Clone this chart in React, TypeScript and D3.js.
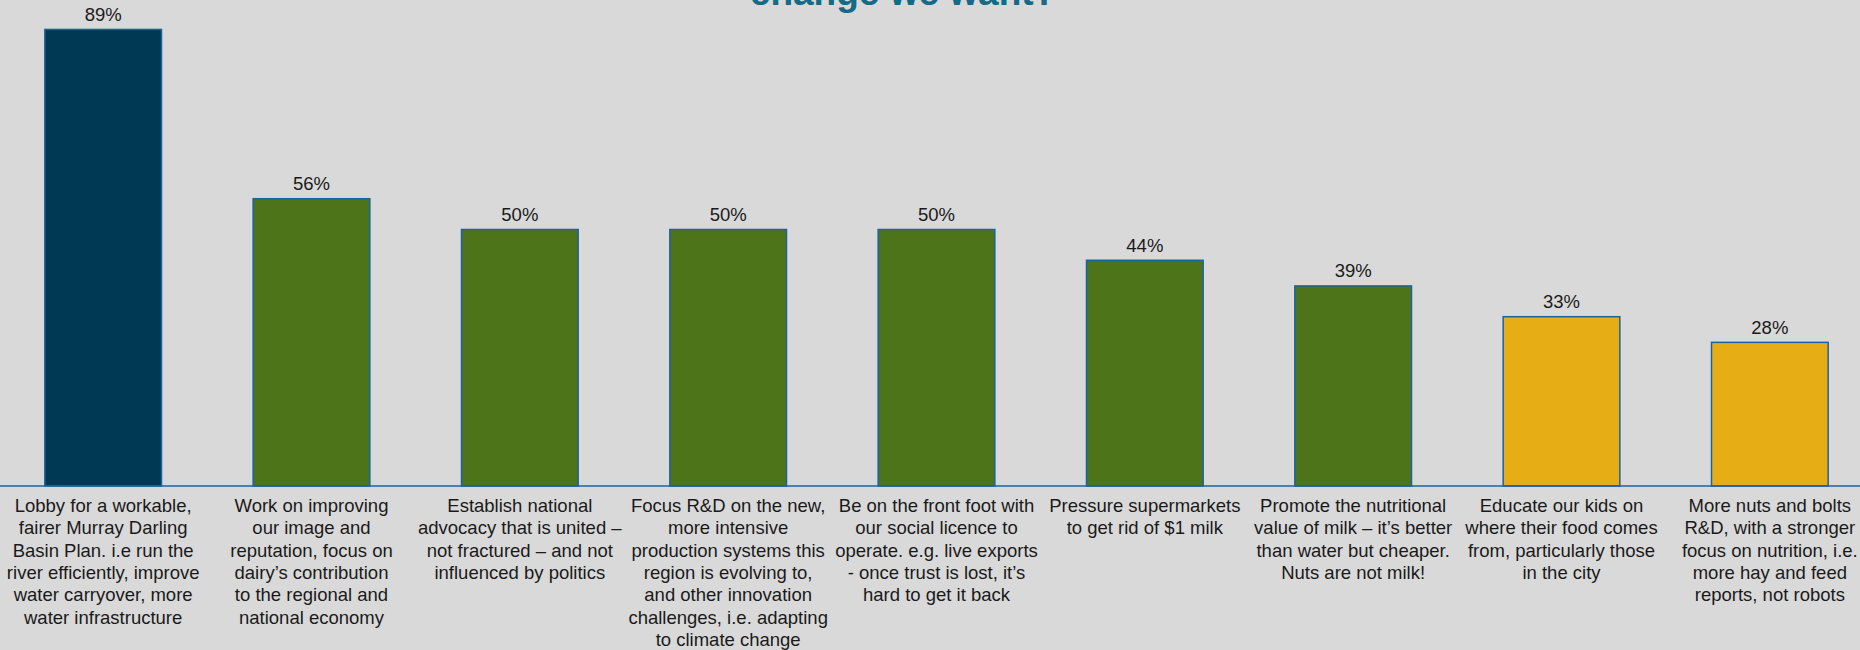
import React from "react";
import * as d3 from "d3";

const categories: string[][] = [
  ["Lobby for a workable,", "fairer Murray Darling", "Basin Plan. i.e run the", "river efficiently, improve", "water carryover, more", "water infrastructure"],
  ["Work on improving", "our image and", "reputation, focus on", "dairy\u2019s contribution", "to the regional and", "national economy"],
  ["Establish national", "advocacy that is united \u2013", "not fractured \u2013 and not", "influenced by politics"],
  ["Focus R&D on the new,", "more intensive", "production systems this", "region is evolving to,", "and other innovation", "challenges, i.e. adapting", "to climate change"],
  ["Be on the front foot with", "our social licence to", "operate. e.g. live exports", "- once trust is lost, it\u2019s", "hard to get it back"],
  ["Pressure supermarkets", "to get rid of $1 milk"],
  ["Promote the nutritional", "value of milk \u2013 it\u2019s better", "than water but cheaper.", "Nuts are not milk!"],
  ["Educate our kids on", "where their food comes", "from, particularly those", "in the city"],
  ["More nuts and bolts", "R&D, with a stronger", "focus on nutrition, i.e.", "more hay and feed", "reports, not robots"],
];

const values: number[] = [0.89, 0.56, 0.5, 0.5, 0.5, 0.44, 0.39, 0.33, 0.28];
const groups: string[] = ["top", "mid", "mid", "mid", "mid", "mid", "mid", "low", "low"];
const groupColors: Record<string, string> = { top: "#003953", mid: "#4e7419", low: "#e6ae14" };
const titleText = "change we want?";

const W = 1860;
const H = 650;
const FONT = "'Liberation Sans', Arial, sans-serif";

export default function App() {
  const ids = categories.map((_, i) => String(i));
  const x = d3.scaleBand<string>().domain(ids).range([-1, 1874]).paddingInner(0.44).paddingOuter(0.22);
  const y = d3.scaleLinear().domain([0, 1]).range([486, -27]);
  const fmt = d3.format(".0%");
  const stroke = "#1b62a6";

  return (
    <svg
      width={W}
      height={H}
      style={{ position: "absolute", left: 0, top: 0, display: "block", background: "#d9d9d9" }}
      fontFamily={FONT}
    >
      <rect x={0} y={0} width={W} height={H} fill="#d9d9d9" />
      <text x={903} y={4.5} textAnchor="middle" fontSize={37} fontWeight="bold" fill="#156a87">
        {titleText}
      </text>
      {values.map((v, i) => (
        <g key={i}>
          <rect
            x={x(ids[i])!}
            y={y(v)}
            width={x.bandwidth()}
            height={y(0) - y(v)}
            fill={groupColors[groups[i]]}
            stroke={stroke}
            strokeWidth={1.5}
          />
          <text
            x={x(ids[i])! + x.bandwidth() / 2}
            y={y(v) - 8.5}
            textAnchor="middle"
            fontSize={18.5}
            fill="#1a1a1a"
          >
            {fmt(v)}
          </text>
        </g>
      ))}
      <line x1={0} x2={W} y1={y(0)} y2={y(0)} stroke={stroke} strokeWidth={1.5} />
      {categories.map((lines, i) => (
        <text
          key={i}
          x={x(ids[i])! + x.bandwidth() / 2}
          y={512}
          textAnchor="middle"
          fontSize={18.5}
          fill="#1a1a1a"
        >
          {lines.map((ln, j) => (
            <tspan key={j} x={x(ids[i])! + x.bandwidth() / 2} dy={j === 0 ? 0 : 22.3}>
              {ln}
            </tspan>
          ))}
        </text>
      ))}
    </svg>
  );
}
